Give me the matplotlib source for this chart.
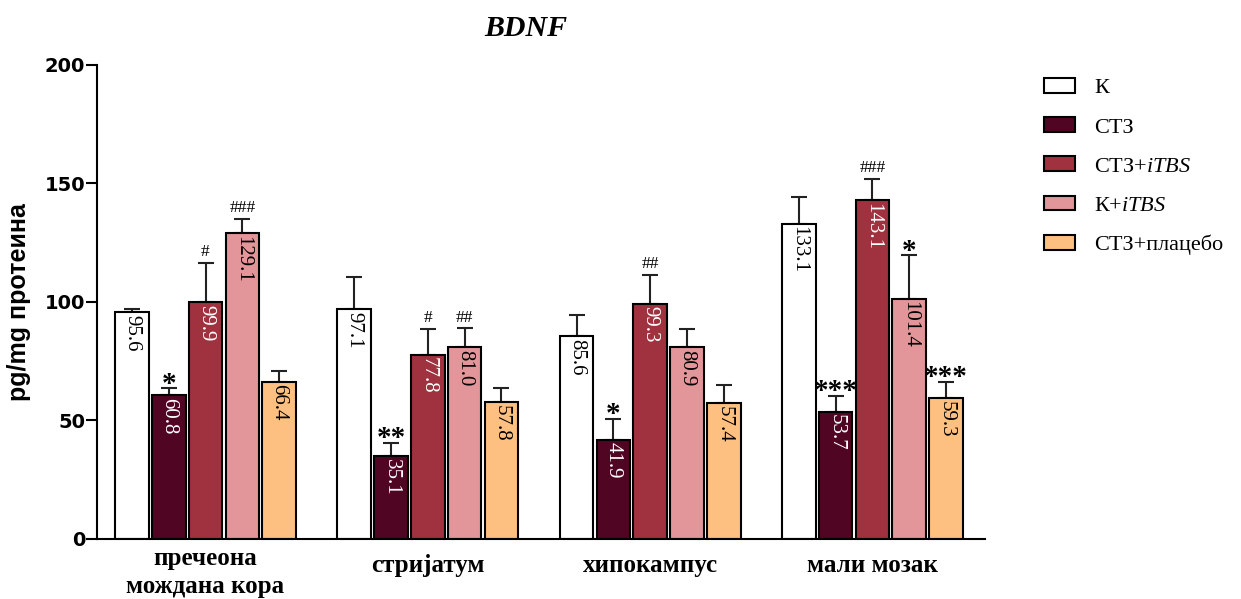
import matplotlib
matplotlib.use("Agg")
import matplotlib.pyplot as plt
import matplotlib.transforms as mtransforms
from matplotlib.patches import Patch
import numpy as np

plt.rcParams['mathtext.fontset'] = 'custom'
plt.rcParams['mathtext.rm'] = 'Liberation Serif'
plt.rcParams['mathtext.it'] = 'Liberation Serif:italic'

# regions (x categories) and groups (series)
regions = ["пречеона\nмождана кора", "стријатум", "хипокампус", "мали мозак"]
groups = ["К", "СТЗ", "СТЗ+$\\mathit{iTBS}$", "К+$\\mathit{iTBS}$", "СТЗ+плацебо"]
colors = ["#FFFFFF", "#500523", "#A0323F", "#E39699", "#FDC080"]
label_colors = ["black", "white", "white", "black", "black"]

# mean values per group, one entry per region
k_vals       = [95.6, 97.1, 85.6, 133.1]
ctz_vals     = [60.8, 35.1, 41.9, 53.7]
ctz_tbs_vals = [99.9, 77.8, 99.3, 143.1]
k_tbs_vals   = [129.1, 81.0, 80.9, 101.4]
plac_vals    = [66.4, 57.8, 57.4, 59.3]

# upper error (SEM)
k_err       = [1.3, 13.3, 9.0, 11.3]
ctz_err     = [2.9, 5.5, 8.9, 6.8]
ctz_tbs_err = [16.6, 10.8, 12.1, 8.8]
k_tbs_err   = [5.9, 7.9, 7.7, 18.3]
plac_err    = [4.5, 5.8, 7.6, 7.1]

# significance marks
k_sig       = ["", "", "", ""]
ctz_sig     = ["*", "**", "*", "***"]
ctz_tbs_sig = ["#", "#", "##", "###"]
k_tbs_sig   = ["###", "##", "", "*"]
plac_sig    = ["", "", "", "***"]

values = [k_vals, ctz_vals, ctz_tbs_vals, k_tbs_vals, plac_vals]
errors = [k_err, ctz_err, ctz_tbs_err, k_tbs_err, plac_err]
sigs = [k_sig, ctz_sig, ctz_tbs_sig, k_tbs_sig, plac_sig]

fig = plt.figure(figsize=(12.41, 5.99), dpi=100)
ax = fig.add_axes([0.0782, 0.1002, 0.7155, 0.7913])

x = np.arange(len(regions))
pitch = 0.1655
width = 0.151

for i in range(len(groups)):
    pos = x + (i - 2) * pitch
    ax.bar(pos, values[i], width, color=colors[i], edgecolor="black", linewidth=1.5, zorder=2)
    ax.errorbar(pos, values[i], yerr=[np.zeros(len(regions)), errors[i]], fmt="none",
                ecolor="#222222", elinewidth=1.5, capsize=6, capthick=1.5, zorder=1)
    for j in range(len(regions)):
        # value written inside the bar, reading downward
        ax.annotate(f"{values[i][j]:.1f}", (pos[j], values[i][j]), xytext=(0, -2),
                    textcoords="offset points", rotation=270, ha="center", va="top",
                    fontsize=15, family="Liberation Serif", color=label_colors[i])
        s = sigs[i][j]
        if s.startswith("*"):
            ax.annotate(s, (pos[j], values[i][j] + errors[i][j]), xytext=(0, -7),
                        textcoords="offset points", ha="center", va="bottom",
                        fontsize=21, family="Liberation Serif", fontweight="bold")
        elif s:
            ax.annotate(s, (pos[j], values[i][j] + errors[i][j]), xytext=(0, 2),
                        textcoords="offset points", ha="center", va="bottom",
                        fontsize=12.5, family="Liberation Serif")

ax.set_xlim(-0.488, 3.506)
ax.set_ylim(0, 200)
ax.set_yticks([0, 50, 100, 150, 200])
ax.set_xticks(x)
ax.set_xticklabels(regions, family="Liberation Serif", fontweight="bold", fontsize=18)
ax.tick_params(axis="x", length=0, pad=6)
ax.tick_params(axis="y", length=8, width=1.5, labelsize=14, pad=0.5)
for t in ax.get_yticklabels():
    t.set_fontweight("bold")
    t.set_family("DejaVu Sans")
for t in ax.get_xticklabels():
    t.set_linespacing(1.25)
    if "\n" not in t.get_text():
        # single-line labels sit a little lower in the original
        t.set_transform(t.get_transform() + mtransforms.ScaledTranslation(0, -7 / 100, fig.dpi_scale_trans))
ax.spines["top"].set_visible(False)
ax.spines["right"].set_visible(False)
ax.spines["left"].set_linewidth(1.5)
ax.spines["bottom"].set_linewidth(1.5)
ax.set_ylabel("pg/mg протеина", family="Liberation Sans", fontweight="bold", fontsize=18, labelpad=10)

fig.text(0.424, 0.953, "BDNF", family="Liberation Serif", fontweight="bold", style="italic",
         fontsize=21.5, ha="center", va="center")

handles = [Patch(facecolor=c, edgecolor="black", linewidth=1.5) for c in colors]
fig.legend(handles, groups, loc="upper left", bbox_to_anchor=(0.8325, 0.888), frameon=False,
           prop={"family": "Liberation Serif", "size": 16}, handlelength=1.4, handleheight=0.65,
           labelspacing=0.85, handletextpad=0.85, borderpad=0)

fig.savefig("out.png", dpi=100)
